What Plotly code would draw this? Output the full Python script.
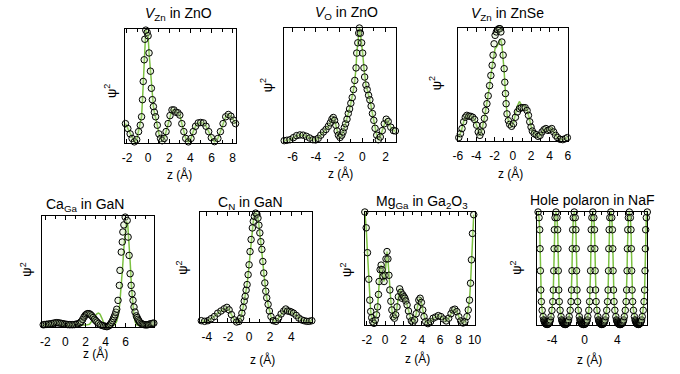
import plotly.graph_objects as go

W, H = 680, 374
FONT = "Liberation Sans, Arial, Helvetica, sans-serif"
GREEN = "#7cc142"

# ---------------- data (z in Angstrom, psi^2 in arbitrary units) ----------------
# V_Zn in ZnO
z1 = [-2.14,-1.92,-1.7,-1.52,-1.3,-1.08,-0.9,-0.74,-0.62,-0.53,-0.46,-0.37,-0.31,-0.22,-0.09,0.0,0.09,0.22,0.31,0.4,
      0.5,0.59,0.71,0.87,1.02,1.18,1.33,1.52,1.7,1.89,2.07,2.26,2.45,2.63,2.82,3.0,3.19,3.38,3.56,3.81,
      4.06,4.27,4.49,4.74,4.98,5.23,5.48,5.73,5.98,6.28,6.6,6.84,7.09,7.34,7.59,7.83,8.08,8.27]
p1 = [0.17,0.127,0.08,0.04,0.01,0.03,0.1,0.156,0.23,0.38,0.54,0.73,0.91,0.99,0.97,0.94,0.79,0.63,0.48,0.38,
      0.32,0.27,0.23,0.156,0.08,0.04,0.02,0.04,0.1,0.17,0.24,0.29,0.29,0.27,0.265,0.245,0.17,0.1,0.04,0.01,
      0.04,0.1,0.147,0.176,0.18,0.176,0.147,0.1,0.047,0.012,0.04,0.1,0.17,0.23,0.25,0.235,0.2,0.17]

# V_O in ZnO
z2 = [-6.73,-6.5,-6.23,-5.94,-5.66,-5.38,-5.1,-4.82,-4.54,-4.25,-4.03,-3.8,-3.58,-3.35,-3.13,-2.93,-2.76,-2.62,-2.5,-2.39,
      -2.28,-2.17,-2.06,-1.92,-1.77,-1.66,-1.55,-1.44,-1.32,-1.21,-1.1,-0.99,-0.87,-0.76,-0.65,-0.54,-0.48,-0.39,-0.31,-0.25,
      -0.17,-0.06,0.03,0.14,0.2,0.31,0.42,0.54,0.65,0.76,0.87,0.99,1.1,1.24,1.38,1.55,1.72,1.89,2.06,2.23,
      2.45,2.68,2.85]
p2 = [0.012,0.015,0.02,0.038,0.056,0.062,0.06,0.05,0.035,0.02,0.018,0.032,0.06,0.088,0.11,0.138,0.168,0.2,0.215,0.19,
      0.147,0.097,0.06,0.04,0.06,0.088,0.126,0.16,0.2,0.25,0.29,0.34,0.39,0.46,0.54,0.65,0.78,0.87,0.955,1.0,
      0.955,0.87,0.78,0.65,0.57,0.5,0.46,0.41,0.37,0.315,0.25,0.19,0.12,0.06,0.02,0.044,0.1,0.16,0.2,0.18,
      0.13,0.1,0.097]

# V_Zn in ZnSe (circles and line)
z3 = [-5.9,-5.72,-5.55,-5.37,-5.19,-5.02,-4.8,-4.59,-4.38,-4.17,-3.96,-3.78,-3.6,-3.43,-3.25,-3.11,-2.97,-2.83,-2.69,-2.54,
      -2.4,-2.26,-2.16,-2.05,-1.94,-1.8,-1.66,-1.52,-1.41,-1.31,-1.2,-1.06,-0.95,-0.88,-0.81,-0.74,-0.64,-0.49,-0.35,-0.14,
      0.07,0.28,0.49,0.71,0.92,1.13,1.34,1.55,1.7,1.84,1.98,2.12,2.33,2.54,2.76,2.97,3.18,3.39,3.6,3.82,
      4.03,4.24,4.45,4.66,4.88,5.16,5.44,5.72,5.94]
p3 = [0.03,0.065,0.11,0.17,0.21,0.227,0.22,0.218,0.21,0.19,0.14,0.08,0.05,0.08,0.14,0.2,0.27,0.33,0.4,0.49,
      0.58,0.67,0.76,0.86,0.935,0.965,0.985,0.994,0.994,0.965,0.876,0.76,0.64,0.52,0.42,0.33,0.24,0.18,0.147,0.13,
      0.153,0.21,0.257,0.286,0.295,0.295,0.295,0.27,0.227,0.17,0.124,0.088,0.065,0.056,0.041,0.05,0.08,0.1,0.11,0.094,
      0.1,0.11,0.08,0.05,0.03,0.015,0.012,0.02,0.03]
pl3 = [0.03,0.065,0.11,0.17,0.21,0.227,0.22,0.218,0.21,0.19,0.14,0.08,0.05,0.08,0.14,0.2,0.27,0.33,0.4,0.49,
       0.58,0.65,0.72,0.78,0.82,0.83,0.85,0.87,0.9,0.89,0.85,0.74,0.62,0.51,0.41,0.33,0.24,0.18,0.147,0.13,
       0.16,0.24,0.31,0.35,0.32,0.31,0.31,0.28,0.227,0.17,0.124,0.088,0.065,0.056,0.041,0.05,0.08,0.1,0.11,0.094,
       0.1,0.11,0.08,0.05,0.03,0.015,0.012,0.02,0.03]

# Ca_Ga in GaN (circles)
z4 = [-2.21,-2.05,-1.89,-1.72,-1.56,-1.4,-1.24,-1.08,-0.91,-0.75,-0.59,-0.43,-0.26,-0.1,0.07,0.23,0.39,0.55,0.72,0.88,
      1.04,1.2,1.37,1.48,1.59,1.72,1.85,1.98,2.11,2.24,2.37,2.5,2.63,2.76,2.89,3.02,3.15,3.3,3.48,3.64,
      3.8,3.96,4.13,4.26,4.39,4.49,4.59,4.69,4.78,4.86,4.94,5.02,5.11,5.24,5.37,5.43,5.56,5.66,5.72,5.82,
      5.95,6.05,6.15,6.24,6.34,6.44,6.54,6.63,6.73,6.83,6.93,7.06,7.14,7.22,7.3,7.38,7.51,7.64,7.77,7.9,
      8.03,8.16,8.29,8.42,8.55,8.68,8.8]
p4 = [0.02,0.022,0.024,0.026,0.027,0.03,0.033,0.036,0.039,0.038,0.036,0.033,0.03,0.027,0.024,0.022,0.021,0.021,0.021,0.022,
      0.024,0.028,0.033,0.04,0.05,0.068,0.09,0.106,0.117,0.121,0.12,0.112,0.1,0.085,0.07,0.057,0.045,0.032,0.02,0.014,
      0.01,0.006,0.003,0.008,0.015,0.026,0.04,0.056,0.075,0.092,0.11,0.133,0.16,0.24,0.375,0.51,0.675,0.766,0.856,0.92,
      0.99,1.005,0.96,0.81,0.645,0.48,0.375,0.3,0.24,0.18,0.135,0.1,0.085,0.07,0.057,0.045,0.034,0.027,0.023,0.02,
      0.019,0.02,0.023,0.027,0.03,0.033,0.035]
# Ca_Ga in GaN (line)
zl4 = [-2.3,-1.5,-1.0,-0.5,0.0,0.5,1.0,1.5,2.0,2.4,2.6,2.8,3.0,3.15,3.3,3.45,3.6,3.75,3.9,4.1,
       4.4,4.7,4.9,5.1,5.25,5.4,5.55,5.7,5.85,5.97,6.08,6.2,6.32,6.45,6.58,6.7,6.82,6.95,7.1,7.4,
       8.0,8.85]
pl4 = [0.015,0.018,0.02,0.017,0.015,0.014,0.014,0.015,0.017,0.025,0.045,0.075,0.105,0.12,0.125,0.115,0.085,0.05,0.02,0.006,
       0.004,0.01,0.02,0.05,0.1,0.2,0.35,0.55,0.75,0.88,0.95,0.93,0.8,0.58,0.36,0.2,0.1,0.045,0.02,0.012,
       0.012,0.015]

# C_N in GaN
z5 = [-4.52,-4.21,-3.9,-3.59,-3.28,-2.97,-2.66,-2.35,-2.1,-1.89,-1.67,-1.42,-1.18,-0.96,-0.8,-0.68,-0.56,-0.46,-0.37,-0.28,
      -0.19,-0.09,0.0,0.09,0.19,0.31,0.4,0.5,0.62,0.74,0.84,0.93,1.02,1.11,1.21,1.3,1.39,1.49,1.58,1.67,
      1.8,1.92,2.07,2.29,2.54,2.79,3.03,3.28,3.47,3.65,3.84,4.02,4.21,4.46,4.71,4.95,5.2,5.45,5.7,5.94]
p5 = [0.012,0.006,0.012,0.03,0.05,0.08,0.1,0.12,0.133,0.11,0.067,0.02,0.0,0.005,0.036,0.08,0.133,0.19,0.233,0.29,
      0.34,0.43,0.52,0.64,0.75,0.855,0.915,0.96,0.99,0.98,0.945,0.88,0.81,0.73,0.66,0.55,0.445,0.355,0.28,0.22,
      0.16,0.1,0.05,0.012,0.006,0.036,0.073,0.1,0.118,0.1,0.097,0.09,0.08,0.06,0.036,0.02,0.012,0.006,0.006,0.012]

# Mg_Ga in Ga2O3
z6 = [-2.22,-2.07,-1.93,-1.79,-1.68,-1.58,-1.47,-1.37,-1.22,-1.08,-0.94,-0.83,-0.73,-0.66,-0.55,-0.44,-0.34,-0.23,-0.12,-0.02,
      0.09,0.2,0.3,0.41,0.51,0.62,0.73,0.87,1.01,1.15,1.29,1.44,1.58,1.72,1.83,1.93,2.04,2.15,2.25,2.39,
      2.54,2.68,2.86,3.03,3.21,3.39,3.53,3.67,3.81,3.95,4.1,4.24,4.42,4.66,4.95,5.23,5.51,5.8,6.08,6.37,
      6.65,6.93,7.18,7.39,7.6,7.82,8.03,8.24,8.49,8.7,8.92,9.06,9.2,9.31,9.41,9.52,9.66]
p6 = [1.0,0.86,0.64,0.405,0.22,0.12,0.065,0.03,0.015,0.044,0.09,0.16,0.27,0.385,0.49,0.53,0.49,0.43,0.385,0.44,
      0.585,0.65,0.585,0.44,0.31,0.21,0.133,0.074,0.06,0.09,0.16,0.25,0.32,0.29,0.237,0.266,0.25,0.237,0.213,0.178,
      0.124,0.074,0.036,0.024,0.044,0.1,0.16,0.22,0.237,0.2,0.133,0.074,0.03,0.012,0.03,0.06,0.071,0.083,0.074,0.053,
      0.036,0.06,0.1,0.133,0.14,0.118,0.074,0.036,0.018,0.03,0.074,0.133,0.22,0.37,0.577,0.81,0.976]

# Hole polaron in NaF: peak positions and the shared peak profile
naf_peaks = [-5.72, -3.52, -1.28, 1.0, 3.2, 5.48, 7.68]
naf_dz = [0.0, 0.12, 0.2, 0.24, 0.28, 0.33, 0.4, 0.5, 0.62, 0.7, 0.75, 0.8, 0.85, 0.9, 0.95, 1.0, 1.05, 1.1]
naf_psi = [1.0, 0.95, 0.843, 0.675, 0.48, 0.31, 0.207, 0.13, 0.074, 0.045, 0.035, 0.025, 0.018, 0.013, 0.01, 0.008, 0.006, 0.005]
naf_range = [-5.8, 7.7]

pts = sorted({(round(c + s * d, 3), v) for c in naf_peaks for d, v in zip(naf_dz, naf_psi) for s in (-1, 1)})
pts = [p for p in pts if naf_range[0] - 0.02 <= p[0] <= naf_range[1] + 0.02]
z7 = [p[0] for p in pts]
p7 = [p[1] for p in pts]

for a, b in [(z1, p1), (z2, p2), (z3, p3), (z3, pl3), (z4, p4), (zl4, pl4), (z5, p5), (z6, p6), (naf_dz, naf_psi)]:
    if len(a) != len(b):
        raise ValueError(f"length mismatch {len(a)} {len(b)}")

PSI = "ψ<sup>2</sup>"
panels = [
    dict(title="<i>V</i><sub>Zn</sub> in ZnO", z=z1, p=p1, zl=z1, pl=p1, frame=(122, 235, 29, 143),
         rng=[-2.2, 8.3], tickvals=[-2, 0, 2, 4, 6, 8], tpos=(177, 14), ypos=(107, 91), xpos=(178, 174)),
    dict(title="<i>V</i><sub>O</sub> in ZnO", z=z2, p=p2, zl=z2, pl=p2, frame=(284, 398, 28, 142),
         rng=[-6.75, 2.9], tickvals=[-6, -4, -2, 0, 2], tpos=(348, 13), ypos=(266, 85), xpos=(342, 173)),
    dict(title="<i>V</i><sub>Zn</sub> in ZnSe", z=z3, p=p3, zl=z3, pl=pl3, frame=(461, 573, 28, 141),
         rng=[-6.0, 6.0], tickvals=[-6, -4, -2, 0, 2, 4, 6], tpos=(512, 14), ypos=(438, 83), xpos=(515, 173)),
    dict(title="Ca<sub>Ga</sub> in GaN", z=z4, p=p4, zl=zl4, pl=pl4, frame=(38, 152, 216, 327),
         rng=[-2.3, 8.85], tickvals=[-2, 0, 2, 4, 6], tpos=(81, 205), ypos=(21, 270), xpos=(92, 353)),
    dict(title="C<sub>N</sub> in GaN", z=z5, p=p5, zl=z5, pl=p5, frame=(199, 313, 212, 322),
         rng=[-4.6, 6.0], tickvals=[-4, -2, 0, 2, 4], tpos=(250, 203), ypos=(180, 268), xpos=(262, 359)),
    dict(title="Mg<sub>Ga</sub> in Ga<sub>2</sub>O<sub>3</sub>", z=z6, p=p6, zl=z6, pl=p6, frame=(366, 478, 212, 325),
         rng=[-2.25, 9.75], tickvals=[-2, 0, 2, 4, 6, 8, 9.75], ticktext=["-2", "0", "2", "4", "6", "8", "10"],
         tpos=(424, 202), ypos=(347, 270), xpos=(420, 358)),
    dict(title="Hole polaron in NaF", z=z7, p=p7, zl=z7, pl=p7, frame=(542, 654, 212, 325),
         rng=naf_range, tickvals=[-4, 0, 4], tpos=(598, 200), ypos=(520, 268), xpos=(595, 359)),
]

fig = go.Figure()
annotations = []

for i, pn in enumerate(panels, start=1):
    s = "" if i == 1 else str(i)
    xn, yn = "x" + s, "y" + s
    fig.add_trace(go.Scatter(x=pn["zl"], y=pn["pl"], mode="lines", xaxis=xn, yaxis=yn,
                             line=dict(color=GREEN, width=1.5), cliponaxis=False,
                             showlegend=False, hoverinfo="skip"))
    fig.add_trace(go.Scatter(x=pn["z"], y=pn["p"], mode="markers", xaxis=xn, yaxis=yn,
                             marker=dict(symbol="circle", size=6.5, color="rgba(200,230,170,0.3)",
                                         line=dict(color="black", width=1)),
                             cliponaxis=False, showlegend=False))
    x0, x1, y0, y1 = pn["frame"]
    tv = pn["tickvals"]
    tt = pn.get("ticktext", [str(v) for v in tv])
    xax = dict(domain=[x0 / W, x1 / W], anchor=yn, range=pn["rng"], showgrid=False, zeroline=False,
               showline=True, linecolor="black", linewidth=1.2, mirror="ticks",
               ticks="inside", ticklen=4, tickwidth=1, tickcolor="black",
               tickmode="array", tickvals=tv, ticktext=tt,
               minor=dict(tickmode="linear", tick0=0, dtick=1, ticks="inside", ticklen=2.5,
                          tickwidth=1, tickcolor="black"),
               tickfont=dict(family=FONT, size=12, color="black"), ticklabelstandoff=3,
               fixedrange=True)
    yax = dict(domain=[1 - y1 / H, 1 - y0 / H], anchor=xn, range=[0, 1], showgrid=False, zeroline=False,
               showline=True, linecolor="black", linewidth=1.2, mirror=True, ticks="",
               showticklabels=False, fixedrange=True)
    fig.layout["xaxis" + s] = xax
    fig.layout["yaxis" + s] = yax

    tx, ty = pn["tpos"]
    annotations.append(dict(text=pn["title"], x=tx / W, y=1 - ty / H, xref="paper", yref="paper",
                            xanchor="center", yanchor="middle", showarrow=False,
                            font=dict(family=FONT, size=14, color="black")))
    px, py = pn["ypos"]
    annotations.append(dict(text=PSI, x=px / W, y=1 - py / H, xref="paper", yref="paper",
                            xanchor="center", yanchor="middle", showarrow=False, textangle=-90,
                            font=dict(family=FONT, size=13, color="black")))
    qx, qy = pn["xpos"]
    annotations.append(dict(text="z (Å)", x=qx / W, y=1 - qy / H, xref="paper", yref="paper",
                            xanchor="center", yanchor="middle", showarrow=False,
                            font=dict(family=FONT, size=12, color="black")))

fig.update_layout(width=W, height=H, margin=dict(l=0, r=0, t=0, b=0),
                  paper_bgcolor="white", plot_bgcolor="white", showlegend=False,
                  annotations=annotations, font=dict(family=FONT, color="black"))

fig.write_html("out.html", config={"displayModeBar": False},
               post_script="document.body.style.margin='0px';document.body.style.overflow='hidden';")
